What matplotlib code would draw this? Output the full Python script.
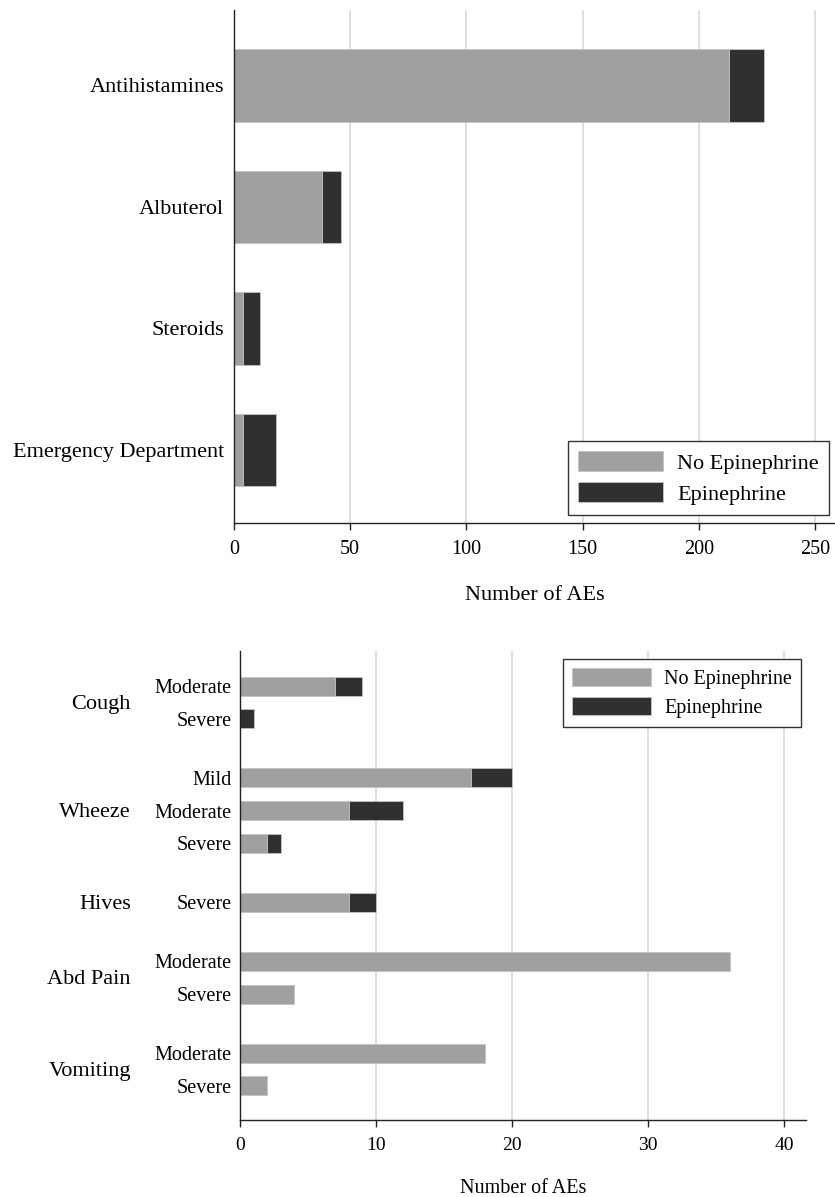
#!/usr/bin/env python3
import matplotlib as mpl
mpl.use('Agg')
import matplotlib.pyplot as plt
import matplotlib.transforms as mtransforms
import numpy as np

plt.rcParams['font.family'] = ['Liberation Serif', 'DejaVu Serif']

LIGHT = '#a0a0a0'
DARK = '#303030'
GRID = '#dcdcdc'

# Top panel: treatments
treatments = ['Antihistamines', 'Albuterol', 'Steroids', 'Emergency Department']
treat_no_epi = [213, 38, 4, 4]
treat_epi = [15, 8, 7, 14]

# Bottom panel: symptoms by severity
groups = ['Cough', 'Wheeze', 'Hives', 'Abd Pain', 'Vomiting']
severities = [['Moderate', 'Severe'],
              ['Mild', 'Moderate', 'Severe'],
              ['Severe'],
              ['Moderate', 'Severe'],
              ['Moderate', 'Severe']]
sym_no_epi = [7, 0, 17, 8, 2, 8, 36, 4, 18, 2]
sym_epi = [2, 1, 3, 4, 1, 2, 0, 0, 0, 0]

fig = plt.figure(figsize=(8.35, 11.97), dpi=100)


def style_axes(ax, tick_size):
    for s in ['top', 'right']:
        ax.spines[s].set_visible(False)
    ax.spines['left'].set_color('#222222')
    ax.spines['bottom'].set_color('#222222')
    ax.spines['left'].set_linewidth(1.0)
    ax.spines['bottom'].set_linewidth(1.0)
    ax.tick_params(axis='y', length=0)
    ax.tick_params(axis='x', length=5, width=1.0, color='#222222',
                   labelsize=tick_size, pad=7)
    ax.grid(axis='x', color=GRID, linewidth=1.3)
    ax.set_axisbelow(True)


# ---- top panel
ax1 = fig.add_axes([234 / 835, 1 - 523 / 1197, 1 - 234 / 835, (523 - 10) / 1197])
style_axes(ax1, 14.5)
ypos = np.arange(len(treatments))
ax1.barh(ypos, treat_no_epi, height=0.595, color=LIGHT, edgecolor='#c4c4c4',
         linewidth=0.6, label='No Epinephrine')
ax1.barh(ypos, treat_epi, left=treat_no_epi, height=0.595, color=DARK,
         edgecolor='#c4c4c4', linewidth=0.6, label='Epinephrine')
ax1.set_yticks(ypos, treatments, fontsize=16)
ax1.tick_params(axis='y', pad=7)
ax1.set_ylim(len(treatments) - 1 + 0.6, -0.62)
ax1.set_xlim(0, 258.5)
ax1.set_xticks([0, 50, 100, 150, 200, 250])
ax1.set_xlabel('Number of AEs', fontsize=16, labelpad=19.5)
leg1 = ax1.legend(loc='lower right', bbox_to_anchor=(0.99, 0.016), borderaxespad=0,
                  fontsize=16, fancybox=False, framealpha=1, edgecolor='#333333',
                  handlelength=3.8, handleheight=1.0, handletextpad=0.65,
                  labelspacing=0.38, borderpad=0.45)
leg1.get_frame().set_linewidth(1.0)

# ---- bottom panel
ax2 = fig.add_axes([240 / 835, 1 - 1120 / 1197, (806 - 240) / 835, (1120 - 651) / 1197])
style_axes(ax2, 14)
pos = []
labels = []
centers = []
y = 0.0
for gi, sev in enumerate(severities):
    start = y
    for s in sev:
        pos.append(y)
        labels.append(s)
        y += 1.0
    centers.append((start + y - 1.0) / 2)
    y += 0.8
pos = np.array(pos)
ax2.barh(pos, sym_no_epi, height=0.58, color=LIGHT, edgecolor='#c4c4c4',
         linewidth=0.6, label='No Epinephrine')
ax2.barh(pos, sym_epi, left=sym_no_epi, height=0.58, color=DARK,
         edgecolor='#c4c4c4', linewidth=0.6, label='Epinephrine')
ax2.set_yticks(pos, labels, fontsize=14.5)
ax2.tick_params(axis='y', pad=6)
ax2.set_ylim(pos[-1] + 1.04, -1.07)
ax2.set_xlim(0, 41.6)
ax2.set_xticks([0, 10, 20, 30, 40])
ax2.set_xlabel('Number of AEs', fontsize=14.5, labelpad=18)
trans = mtransforms.blended_transform_factory(ax2.transAxes, ax2.transData)
for g, c in zip(groups, centers):
    ax2.text(-0.1926, c + 0.05, g, transform=trans, ha='right', va='center', fontsize=16)
leg2 = ax2.legend(loc='upper right', bbox_to_anchor=(0.991, 0.983), borderaxespad=0,
                  fontsize=14.5, fancybox=False, framealpha=1, edgecolor='#333333',
                  handlelength=3.9, handleheight=1.0, handletextpad=0.65,
                  labelspacing=0.38, borderpad=0.45)
leg2.get_frame().set_linewidth(1.0)

plt.savefig('out.png', dpi=100)
